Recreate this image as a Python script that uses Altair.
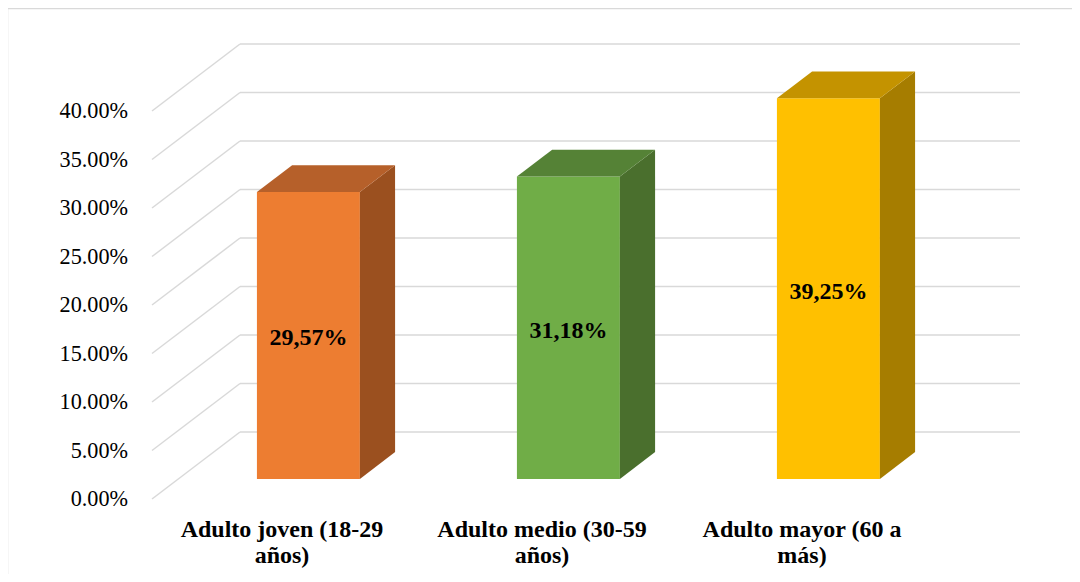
import altair as alt
import pandas as pd

# ---- data ----
categories = ["Adulto joven (18-29 años)", "Adulto medio (30-59 años)", "Adulto mayor (60 a más)"]
category_lines = [["Adulto joven (18-29", "años)"], ["Adulto medio (30-59", "años)"], ["Adulto mayor (60 a", "más)"]]
values = [29.57, 31.18, 39.25]
value_labels = ["29,57%", "31,18%", "39,25%"]
tick_values = [0, 5, 10, 15, 20, 25, 30, 35, 40]
tick_labels = ["0.00%", "5.00%", "10.00%", "15.00%", "20.00%", "25.00%", "30.00%", "35.00%", "40.00%"]
front_colors = ["#ED7D31", "#70AD47", "#FFC000"]
top_colors = ["#B6602A", "#558236", "#C49300"]
side_colors = ["#9B501F", "#4A6F2D", "#A67D00"]

# ---- oblique 3-D projection constants (style) ----
KX = 0.3385      # x shift (category units) per unit depth
KY = 6.907       # y shift (percent units) per unit depth
Z_FRONT, Z_BACK = 0.3, 0.7
HALF = 0.198     # half bar width in category units
N = len(categories)

W, H = 1064, 566
xs = alt.Scale(domain=[-0.55385, 3.53846], nice=False, zero=False)
ys = alt.Scale(domain=[-7.732, 50.619], nice=False, zero=False)
FONT = "Liberation Serif"
GRID = "#D9D9D9"


def X(f):
    return alt.X(f, type="quantitative", scale=xs, axis=None)


def Y(f):
    return alt.Y(f, type="quantitative", scale=ys, axis=None)


# gridlines on back wall and left wall
back = pd.DataFrame({"x": [KX] * len(tick_values), "x2": [N + KX] * len(tick_values),
                     "y": [t + KY for t in tick_values]})
side = pd.DataFrame({"x": [0.0] * len(tick_values), "x2": [KX] * len(tick_values),
                     "y": tick_values, "y2": [t + KY for t in tick_values]})
back_layer = alt.Chart(back).mark_rule(color=GRID, strokeWidth=1.5).encode(
    x=X("x"), x2="x2", y=Y("y"))
side_layer = alt.Chart(side).mark_rule(color=GRID, strokeWidth=1.5).encode(
    x=X("x"), x2="x2", y=Y("y"), y2="y2")

layers = [back_layer, side_layer]

# bar faces
front_rows, lab_rows = [], []
for i, v in enumerate(values):
    c = i + 0.5
    front_rows.append({"x": c - HALF + KX * Z_FRONT, "x2": c + HALF + KX * Z_FRONT,
                       "y": KY * Z_FRONT, "y2": v + KY * Z_FRONT, "col": front_colors[i]})
    lab_rows.append({"x": c + KX * Z_FRONT, "y": v / 2 + KY * Z_FRONT, "t": value_labels[i]})

front_layer = alt.Chart(pd.DataFrame(front_rows)).mark_rect().encode(
    x=X("x"), x2="x2", y=Y("y"), y2="y2", color=alt.Color("col:N", scale=None))
layers.append(front_layer)

for i, v in enumerate(values):
    c = i + 0.5
    zs = [Z_FRONT, Z_BACK]
    sdf = pd.DataFrame({"x": [c + HALF + KX * z for z in zs],
                        "lo": [KY * z for z in zs],
                        "hi": [v + KY * z for z in zs]})
    tdf = pd.DataFrame({"y": [v + KY * z for z in zs],
                        "l": [c - HALF + KX * z for z in zs],
                        "r": [c + HALF + KX * z for z in zs]})
    layers.append(alt.Chart(sdf).mark_area(color=side_colors[i], orient="vertical").encode(
        x=X("x"), y=Y("lo"), y2="hi"))
    layers.append(alt.Chart(tdf).mark_area(color=top_colors[i], orient="horizontal").encode(
        y=Y("y"), x=X("l"), x2="r"))

val_layer = alt.Chart(pd.DataFrame(lab_rows)).mark_text(
    font=FONT, fontSize=24, fontWeight="bold", color="#000000", baseline="middle", dy=3).encode(
    x=X("x"), y=Y("y"), text="t:N")

# y tick labels (front-left edge of floor)
ytick = pd.DataFrame({"x": [0.0] * len(tick_values), "y": tick_values, "t": tick_labels})
ytick_layer = alt.Chart(ytick).mark_text(
    font=FONT, fontSize=22.2, color="#000000", align="right", baseline="middle", dx=-24, dy=0).encode(
    x=X("x"), y=Y("y"), text="t:N")

# category labels
cat = pd.DataFrame({"x": [i + 0.5 for i in range(N)], "y": [0.0] * N,
                    "t": ["\n".join(l) for l in category_lines]})
cat_layer = alt.Chart(cat).mark_text(
    font=FONT, fontSize=24, fontWeight="bold", color="#000000", align="center",
    baseline="alphabetic", dy=38, lineBreak="\n", lineHeight=26).encode(
    x=X("x"), y=Y("y"), text="t:N")

# chart frame (left and top edges visible in the reference)
frame_top = alt.Chart(pd.DataFrame({"a": [0]})).mark_rule(color=GRID, strokeWidth=1.5).encode(
    x=alt.value(0), x2=alt.value(W), y=alt.value(0.5))
frame_left = alt.Chart(pd.DataFrame({"a": [0]})).mark_rule(color=GRID, strokeWidth=1.5).encode(
    x=alt.value(-0.5), y=alt.value(0), y2=alt.value(H))

chart = alt.layer(
    frame_top, frame_left, *layers, val_layer, ytick_layer, cat_layer
).properties(
    width=W, height=H, padding=0, autosize=alt.AutoSizeParams(type="none"),
    background="#FFFFFF"
).configure_view(stroke=None)

chart.save("out.html", embed_options={"renderer": "svg", "actions": False})
